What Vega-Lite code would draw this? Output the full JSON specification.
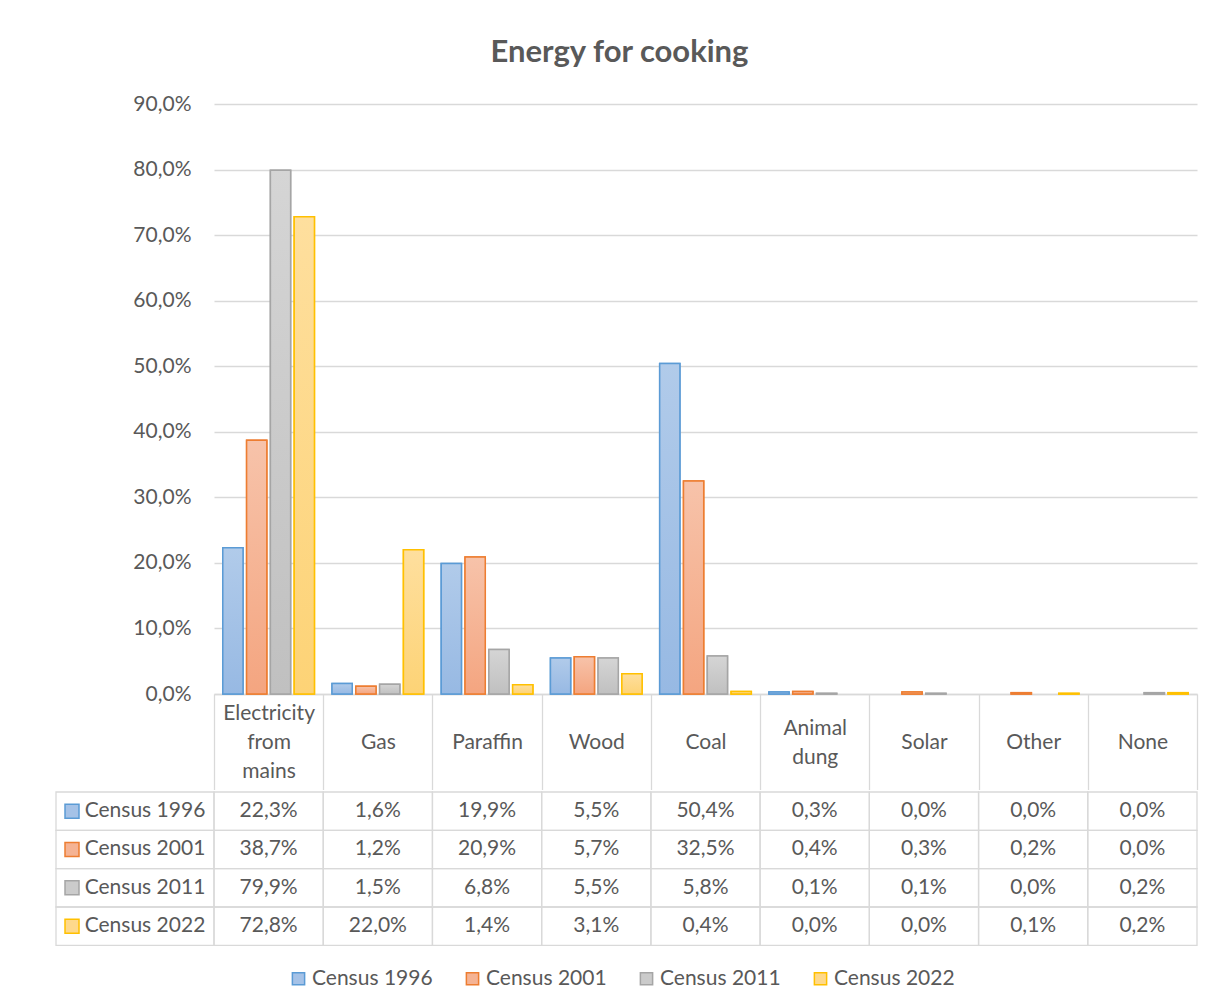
{
  "$schema": "https://vega.github.io/schema/vega-lite/v6.json",
  "background": "white",
  "padding": {"left": 55, "top": 37, "right": 13, "bottom": 18},
  "title": {"text": "Energy for cooking", "fontSize": 31, "fontWeight": "bold", "color": "#595959", "font": "Lato", "anchor": "middle", "offset": 24, "dx": -7},
  "datasets": {
    "energy": [
      {"category": "Electricity from mains", "series": "Census 1996", "value": 0.223},
      {"category": "Gas", "series": "Census 1996", "value": 0.016},
      {"category": "Paraffin", "series": "Census 1996", "value": 0.199},
      {"category": "Wood", "series": "Census 1996", "value": 0.055},
      {"category": "Coal", "series": "Census 1996", "value": 0.504},
      {"category": "Animal dung", "series": "Census 1996", "value": 0.003},
      {"category": "Solar", "series": "Census 1996", "value": 0.0},
      {"category": "Other", "series": "Census 1996", "value": 0.0},
      {"category": "None", "series": "Census 1996", "value": 0.0},
      {"category": "Electricity from mains", "series": "Census 2001", "value": 0.387},
      {"category": "Gas", "series": "Census 2001", "value": 0.012},
      {"category": "Paraffin", "series": "Census 2001", "value": 0.209},
      {"category": "Wood", "series": "Census 2001", "value": 0.057},
      {"category": "Coal", "series": "Census 2001", "value": 0.325},
      {"category": "Animal dung", "series": "Census 2001", "value": 0.004},
      {"category": "Solar", "series": "Census 2001", "value": 0.003},
      {"category": "Other", "series": "Census 2001", "value": 0.002},
      {"category": "None", "series": "Census 2001", "value": 0.0},
      {"category": "Electricity from mains", "series": "Census 2011", "value": 0.799},
      {"category": "Gas", "series": "Census 2011", "value": 0.015},
      {"category": "Paraffin", "series": "Census 2011", "value": 0.068},
      {"category": "Wood", "series": "Census 2011", "value": 0.055},
      {"category": "Coal", "series": "Census 2011", "value": 0.058},
      {"category": "Animal dung", "series": "Census 2011", "value": 0.001},
      {"category": "Solar", "series": "Census 2011", "value": 0.001},
      {"category": "Other", "series": "Census 2011", "value": 0.0},
      {"category": "None", "series": "Census 2011", "value": 0.002},
      {"category": "Electricity from mains", "series": "Census 2022", "value": 0.728},
      {"category": "Gas", "series": "Census 2022", "value": 0.22},
      {"category": "Paraffin", "series": "Census 2022", "value": 0.014},
      {"category": "Wood", "series": "Census 2022", "value": 0.031},
      {"category": "Coal", "series": "Census 2022", "value": 0.004},
      {"category": "Animal dung", "series": "Census 2022", "value": 0.0},
      {"category": "Solar", "series": "Census 2022", "value": 0.0},
      {"category": "Other", "series": "Census 2022", "value": 0.001},
      {"category": "None", "series": "Census 2022", "value": 0.002}
    ],
    "series": [
      {"series": "Census 1996"},
      {"series": "Census 2001"},
      {"series": "Census 2011"},
      {"series": "Census 2022"}
    ]
  },
  "spacing": 0,
  "vconcat": [
    {
      "width": 983,
      "height": 590,
      "data": {"name": "energy"},
      "transform": [{"filter": "datum.value > 0"}],
      "encoding": {
        "x": {
          "field": "category", "type": "nominal", "sort": null,
          "scale": {"domain": ["Electricity from mains", "Gas", "Paraffin", "Wood", "Coal", "Animal dung", "Solar", "Other", "None"], "paddingInner": 0, "paddingOuter": 0},
          "axis": {
            "orient": "bottom", "title": null, "domain": true, "domainColor": "#d9d9d9", "domainWidth": 1.3,
            "ticks": true, "tickBand": "extent", "tickExtra": true, "tickSize": 95.5, "tickColor": "#d9d9d9", "tickWidth": 1.3,
            "labelAngle": 0,
            "labelExpr": "datum.label == 'Electricity from mains' ? ['Electricity', 'from', 'mains'] : datum.label == 'Animal dung' ? ['Animal', 'dung'] : ['', datum.label]",
            "labelLineHeight": 29,
            "labelBaseline": {"condition": {"test": "datum.value == 'Animal dung'", "value": "line-top"}, "value": "middle"},
            "labelPadding": -76.5, "labelFontSize": 21, "labelColor": "#595959", "labelOverlap": false, "labelFont": "Lato"
          }
        },
        "xOffset": {
          "field": "series", "type": "nominal",
          "scale": {"domain": ["Census 1996", "Census 2001", "Census 2011", "Census 2022"], "paddingInner": 0.15, "paddingOuter": 0.369}
        },
        "y": {
          "field": "value", "type": "quantitative", "stack": null,
          "scale": {"domain": [0, 0.9], "nice": false},
          "axis": {
            "title": null, "values": [0, 0.1, 0.2, 0.3, 0.4, 0.5, 0.6, 0.7, 0.8, 0.9], "format": ".1%",
            "grid": true, "gridColor": "#d9d9d9", "gridWidth": 1.3, "ticks": false, "domain": false,
            "labelFontSize": 21, "labelColor": "#595959", "labelPadding": 23, "labelFont": "Lato",
            "minExtent": 158, "maxExtent": 158
          }
        }
      },
      "layer": [
        {
          "mark": {"type": "bar", "strokeWidth": 1.5},
          "encoding": {
            "fill": {"field": "series", "type": "nominal", "title": null,
              "scale": {"domain": ["Census 1996", "Census 2001", "Census 2011", "Census 2022"], "range": ["#a5c2e7", "#f5b394", "#cbcbcb", "#fed98b"]}},
            "stroke": {"field": "series", "type": "nominal", "title": null,
              "scale": {"domain": ["Census 1996", "Census 2001", "Census 2011", "Census 2022"], "range": ["#5b9bd5", "#ed7d31", "#a5a5a5", "#ffc000"]}}
          }
        },
        {
          "transform": [{"filter": "datum.series === 'Census 1996'"}],
          "mark": {"type": "bar", "stroke": "#5b9bd5", "strokeWidth": 1.5,
            "fill": {"gradient": "linear", "x1": 0, "y1": 0, "x2": 0, "y2": 1, "stops": [{"offset": 0, "color": "#b1cbea"}, {"offset": 1, "color": "#97b9e3"}]}}
        },
        {
          "transform": [{"filter": "datum.series === 'Census 2001'"}],
          "mark": {"type": "bar", "stroke": "#ed7d31", "strokeWidth": 1.5,
            "fill": {"gradient": "linear", "x1": 0, "y1": 0, "x2": 0, "y2": 1, "stops": [{"offset": 0, "color": "#f7c3aa"}, {"offset": 1, "color": "#f4a580"}]}}
        },
        {
          "transform": [{"filter": "datum.series === 'Census 2011'"}],
          "mark": {"type": "bar", "stroke": "#a5a5a5", "strokeWidth": 1.5,
            "fill": {"gradient": "linear", "x1": 0, "y1": 0, "x2": 0, "y2": 1, "stops": [{"offset": 0, "color": "#d5d5d5"}, {"offset": 1, "color": "#c0c0c0"}]}}
        },
        {
          "transform": [{"filter": "datum.series === 'Census 2022'"}],
          "mark": {"type": "bar", "stroke": "#ffc000", "strokeWidth": 1.5,
            "fill": {"gradient": "linear", "x1": 0, "y1": 0, "x2": 0, "y2": 1, "stops": [{"offset": 0, "color": "#fedf9e"}, {"offset": 1, "color": "#fdd376"}]}}
        }
      ]
    },
    {
      "width": 983,
      "height": 153.3,
      "resolve": {"scale": {"x": "independent"}},
      "layer": [
        {
          "data": {"name": "energy"},
          "encoding": {
            "x": {
              "field": "category", "type": "nominal", "sort": null, "axis": null,
              "scale": {"domain": ["Electricity from mains", "Gas", "Paraffin", "Wood", "Coal", "Animal dung", "Solar", "Other", "None"], "paddingInner": 0, "paddingOuter": 0}
            },
            "y": {"field": "series", "type": "nominal", "axis": null, "scale": {"paddingInner": 0, "paddingOuter": 0}}
          },
          "layer": [
            {"mark": {"type": "rect", "fill": "white", "fillOpacity": 0, "stroke": "#d9d9d9", "strokeWidth": 1.3}},
            {
              "mark": {"type": "text", "fontSize": 21, "color": "#595959", "font": "Lato", "align": "center", "baseline": "middle"},
              "encoding": {"text": {"field": "value", "type": "quantitative", "format": ".1%"}}
            }
          ]
        },
        {
          "data": {"name": "series"},
          "encoding": {
            "y": {"field": "series", "type": "nominal", "axis": null, "scale": {"paddingInner": 0, "paddingOuter": 0}}
          },
          "layer": [
            {
              "mark": {"type": "rect", "fill": "white", "fillOpacity": 0, "stroke": "#d9d9d9", "strokeWidth": 1.3},
              "encoding": {
                "x": {"datum": "label", "type": "nominal", "axis": null, "scale": {"domain": ["label"], "paddingInner": 0, "paddingOuter": 0, "range": [-158, 0]}}
              }
            },
            {
              "mark": {"type": "text", "fontSize": 21, "color": "#595959", "font": "Lato", "align": "left", "baseline": "middle"},
              "encoding": {
                "x": {"datum": "label", "type": "nominal", "bandPosition": 0.1816, "axis": null},
                "text": {"field": "series", "type": "nominal"}
              }
            },
            {
              "mark": {"type": "point", "shape": "square", "filled": true, "size": 196, "strokeWidth": 1.5, "opacity": 1},
              "encoding": {
                "x": {"datum": "label", "type": "nominal", "bandPosition": 0.1013, "axis": null},
                "fill": {"field": "series", "type": "nominal", "title": null},
                "stroke": {"field": "series", "type": "nominal", "title": null}
              }
            }
          ]
        }
      ]
    }
  ],
  "config": {
    "font": "Lato",
    "view": {"stroke": null},
    "locale": {"number": {"decimal": ",", "thousands": ".", "grouping": [3], "currency": ["", " €"]}},
    "legend": {
      "orient": "none", "legendX": 74, "legendY": 864, "direction": "horizontal",
      "symbolType": "square", "symbolSize": 150, "symbolStrokeWidth": 1.5,
      "labelFontSize": 21, "labelColor": "#595959", "labelFont": "Lato", "labelOffset": 3, "columnPadding": 29
    }
  }
}
